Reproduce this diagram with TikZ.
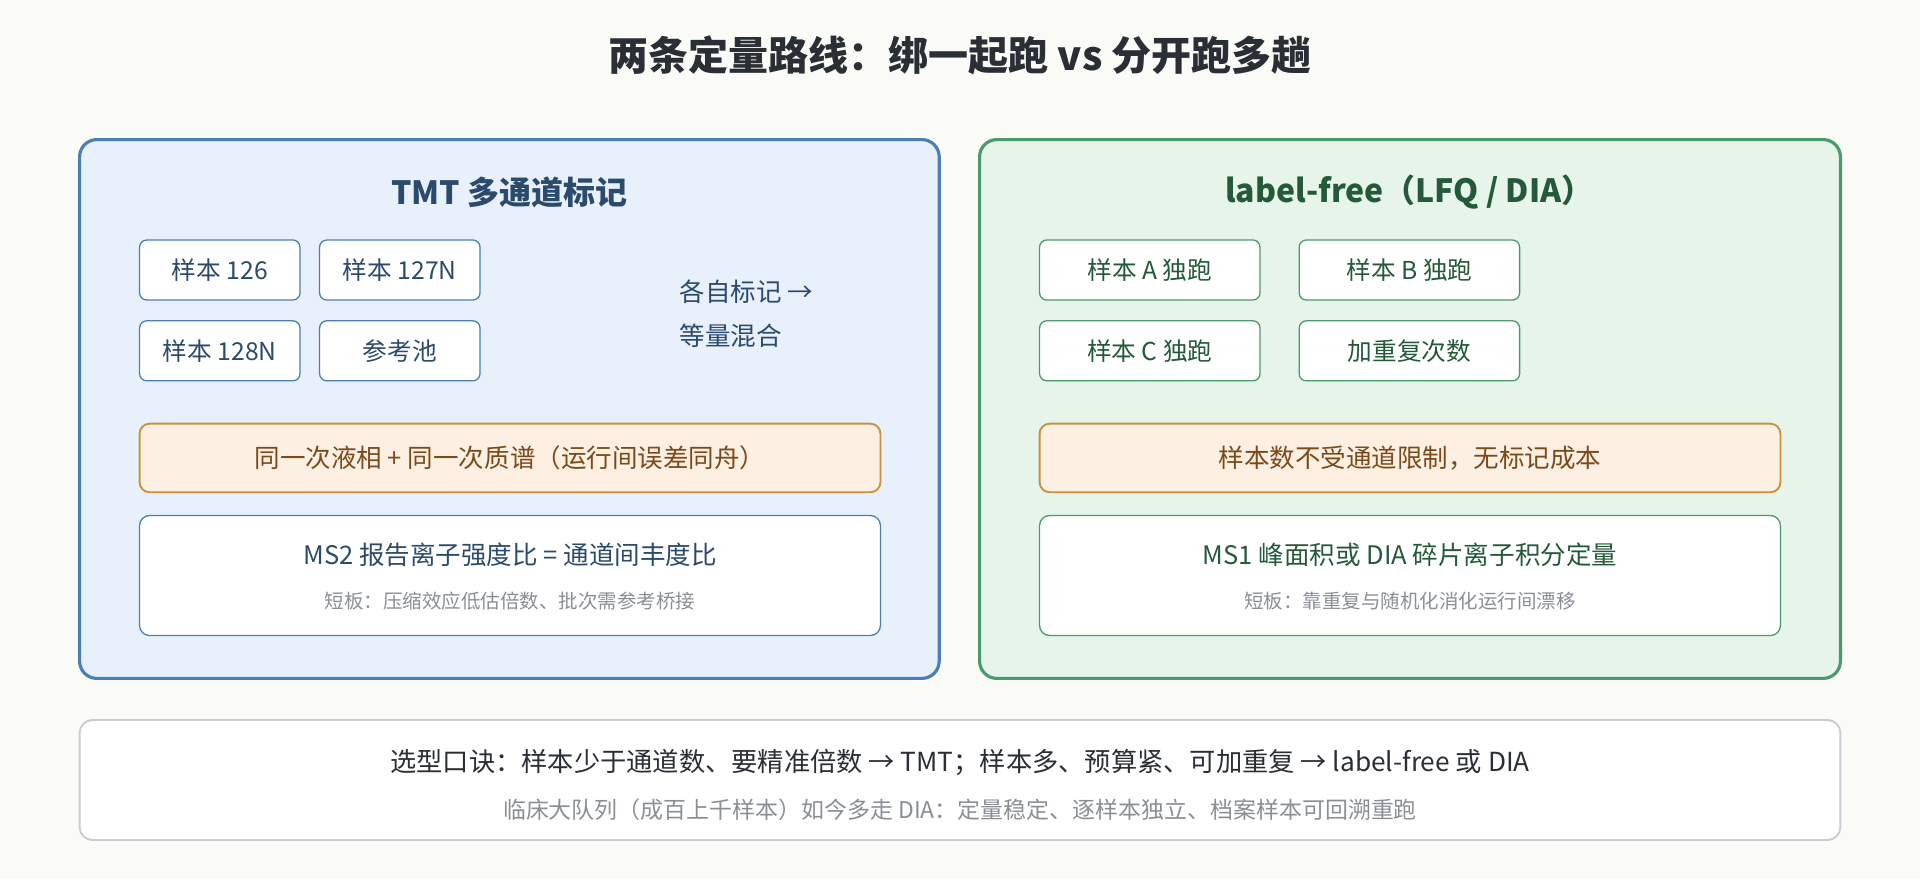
\documentclass[tikz,border=0pt]{standalone}
\usepackage{fontspec}
\setmainfont{Noto Sans CJK SC}
\usetikzlibrary{positioning}
\definecolor{bgc}{HTML}{FAFBF6}
\definecolor{tmtline}{HTML}{4A7FB5}
\definecolor{tmtfill}{HTML}{E8F0FB}
\definecolor{tmttext}{HTML}{2C4A6B}
\definecolor{lfqline}{HTML}{4A9A6E}
\definecolor{lfqfill}{HTML}{E6F4EA}
\definecolor{lfqtext}{HTML}{245A3A}
\definecolor{orline}{HTML}{C8903F}
\definecolor{orfill}{HTML}{FDF0E2}
\definecolor{ortext}{HTML}{7A4A1A}
\definecolor{greyline}{HTML}{C8CCD2}
\definecolor{greytext}{HTML}{8A8F96}
\definecolor{darktext}{HTML}{2A2F36}
\tikzset{
  panel/.style={line width=2.2pt,rounded corners=12pt},
  smp/.style={draw,fill=white,line width=0.9pt,rounded corners=5pt,inner sep=0pt,
    minimum height=1.47cm,font=\fontsize{17.2}{20}\selectfont},
  note/.style={draw=orline,fill=orfill,text=ortext,line width=1.3pt,rounded corners=7pt,
    inner sep=0pt,minimum width=18.15cm,minimum height=1.68cm,font=\fontsize{17.8}{20}\selectfont},
  detail/.style={draw,fill=white,line width=0.9pt,rounded corners=7pt,inner sep=0pt,
    minimum width=18.15cm,minimum height=2.94cm},
  main/.style={font=\fontsize{17.8}{20}\selectfont},
  sub/.style={font=\fontsize{13.6}{16}\selectfont,text=greytext}
}
\begin{document}
\begin{tikzpicture}[x=0.03cm,y=-0.03cm]
  \fill[bgc] (0,0) rectangle (1568,718);
  \node[font=\bfseries\fontsize{27.9}{32}\selectfont,text=darktext] (title) at (784,45) {两条定量路线：绑一起跑 vs 分开跑多趟};

  % TMT panel
  \draw[panel,draw=tmtline,fill=tmtfill] (65,114) rectangle (767,554);
  \node[font=\bfseries\fontsize{22.3}{26}\selectfont,text=tmttext] (tmt) at (416,157) {TMT 多通道标记};
  \node[smp,draw=tmtline,text=tmttext,minimum width=3.93cm] (s126) at (179.5,220.5) {样本 126};
  \node[smp,draw=tmtline,text=tmttext,minimum width=3.93cm] (s127) at (326.5,220.5) {样本 127N};
  \node[smp,draw=tmtline,text=tmttext,minimum width=3.93cm] (s128) at (179.5,286.5) {样本 128N};
  \node[smp,draw=tmtline,text=tmttext,minimum width=3.93cm] (pool) at (326.5,286.5) {参考池};
  \node[main,text=tmttext,anchor=west,inner sep=0pt] (mix1) at (555,238) {各自标记 →};
  \node[main,text=tmttext,anchor=west,inner sep=0pt] (mix2) at (555,274) {等量混合};
  \node[note] (tmtnote) at (416.5,374) {同一次液相 + 同一次质谱（运行间误差同舟）};
  \node[detail,draw=tmtline] (tmtbox) at (416.5,470) {};
  \node[main,text=tmttext] (tmtmain) at (416.5,453) {MS2 报告离子强度比 = 通道间丰度比};
  \node[sub] (tmtsub) at (416.5,491) {短板：压缩效应低估倍数、批次需参考桥接};

  % label-free panel
  \draw[panel,draw=lfqline,fill=lfqfill] (800,114) rectangle (1503,554);
  \node[font=\bfseries\fontsize{22.3}{26}\selectfont,text=lfqtext] (lfq) at (1151,157) {label-free（LFQ / DIA）};
  \node[smp,draw=lfqline,text=lfqtext,minimum width=5.4cm] (sa) at (939,220.5) {样本 A 独跑};
  \node[smp,draw=lfqline,text=lfqtext,minimum width=5.4cm] (sb) at (1151,220.5) {样本 B 独跑};
  \node[smp,draw=lfqline,text=lfqtext,minimum width=5.4cm] (sc) at (939,286.5) {样本 C 独跑};
  \node[smp,draw=lfqline,text=lfqtext,minimum width=5.4cm] (rep) at (1151,286.5) {加重复次数};
  \node[note] (lfqnote) at (1151.5,374) {样本数不受通道限制，无标记成本};
  \node[detail,draw=lfqline] (lfqbox) at (1151.5,470) {};
  \node[main,text=lfqtext] (lfqmain) at (1151.5,453) {MS1 峰面积或 DIA 碎片离子积分定量};
  \node[sub] (lfqsub) at (1151.5,491) {短板：靠重复与随机化消化运行间漂移};

  % bottom summary
  \draw[draw=greyline,fill=white,line width=1.3pt,rounded corners=9pt] (65,588) rectangle (1503,686);
  \node[font=\fontsize{18.3}{21}\selectfont,text=darktext] (rule) at (784,623) {选型口诀：样本少于通道数、要精准倍数 → TMT；样本多、预算紧、可加重复 → label-free 或 DIA};
  \node[font=\fontsize{16}{19}\selectfont,text=greytext] (rulesub) at (784,661) {临床大队列（成百上千样本）如今多走 DIA：定量稳定、逐样本独立、档案样本可回溯重跑};
\end{tikzpicture}
\end{document}
